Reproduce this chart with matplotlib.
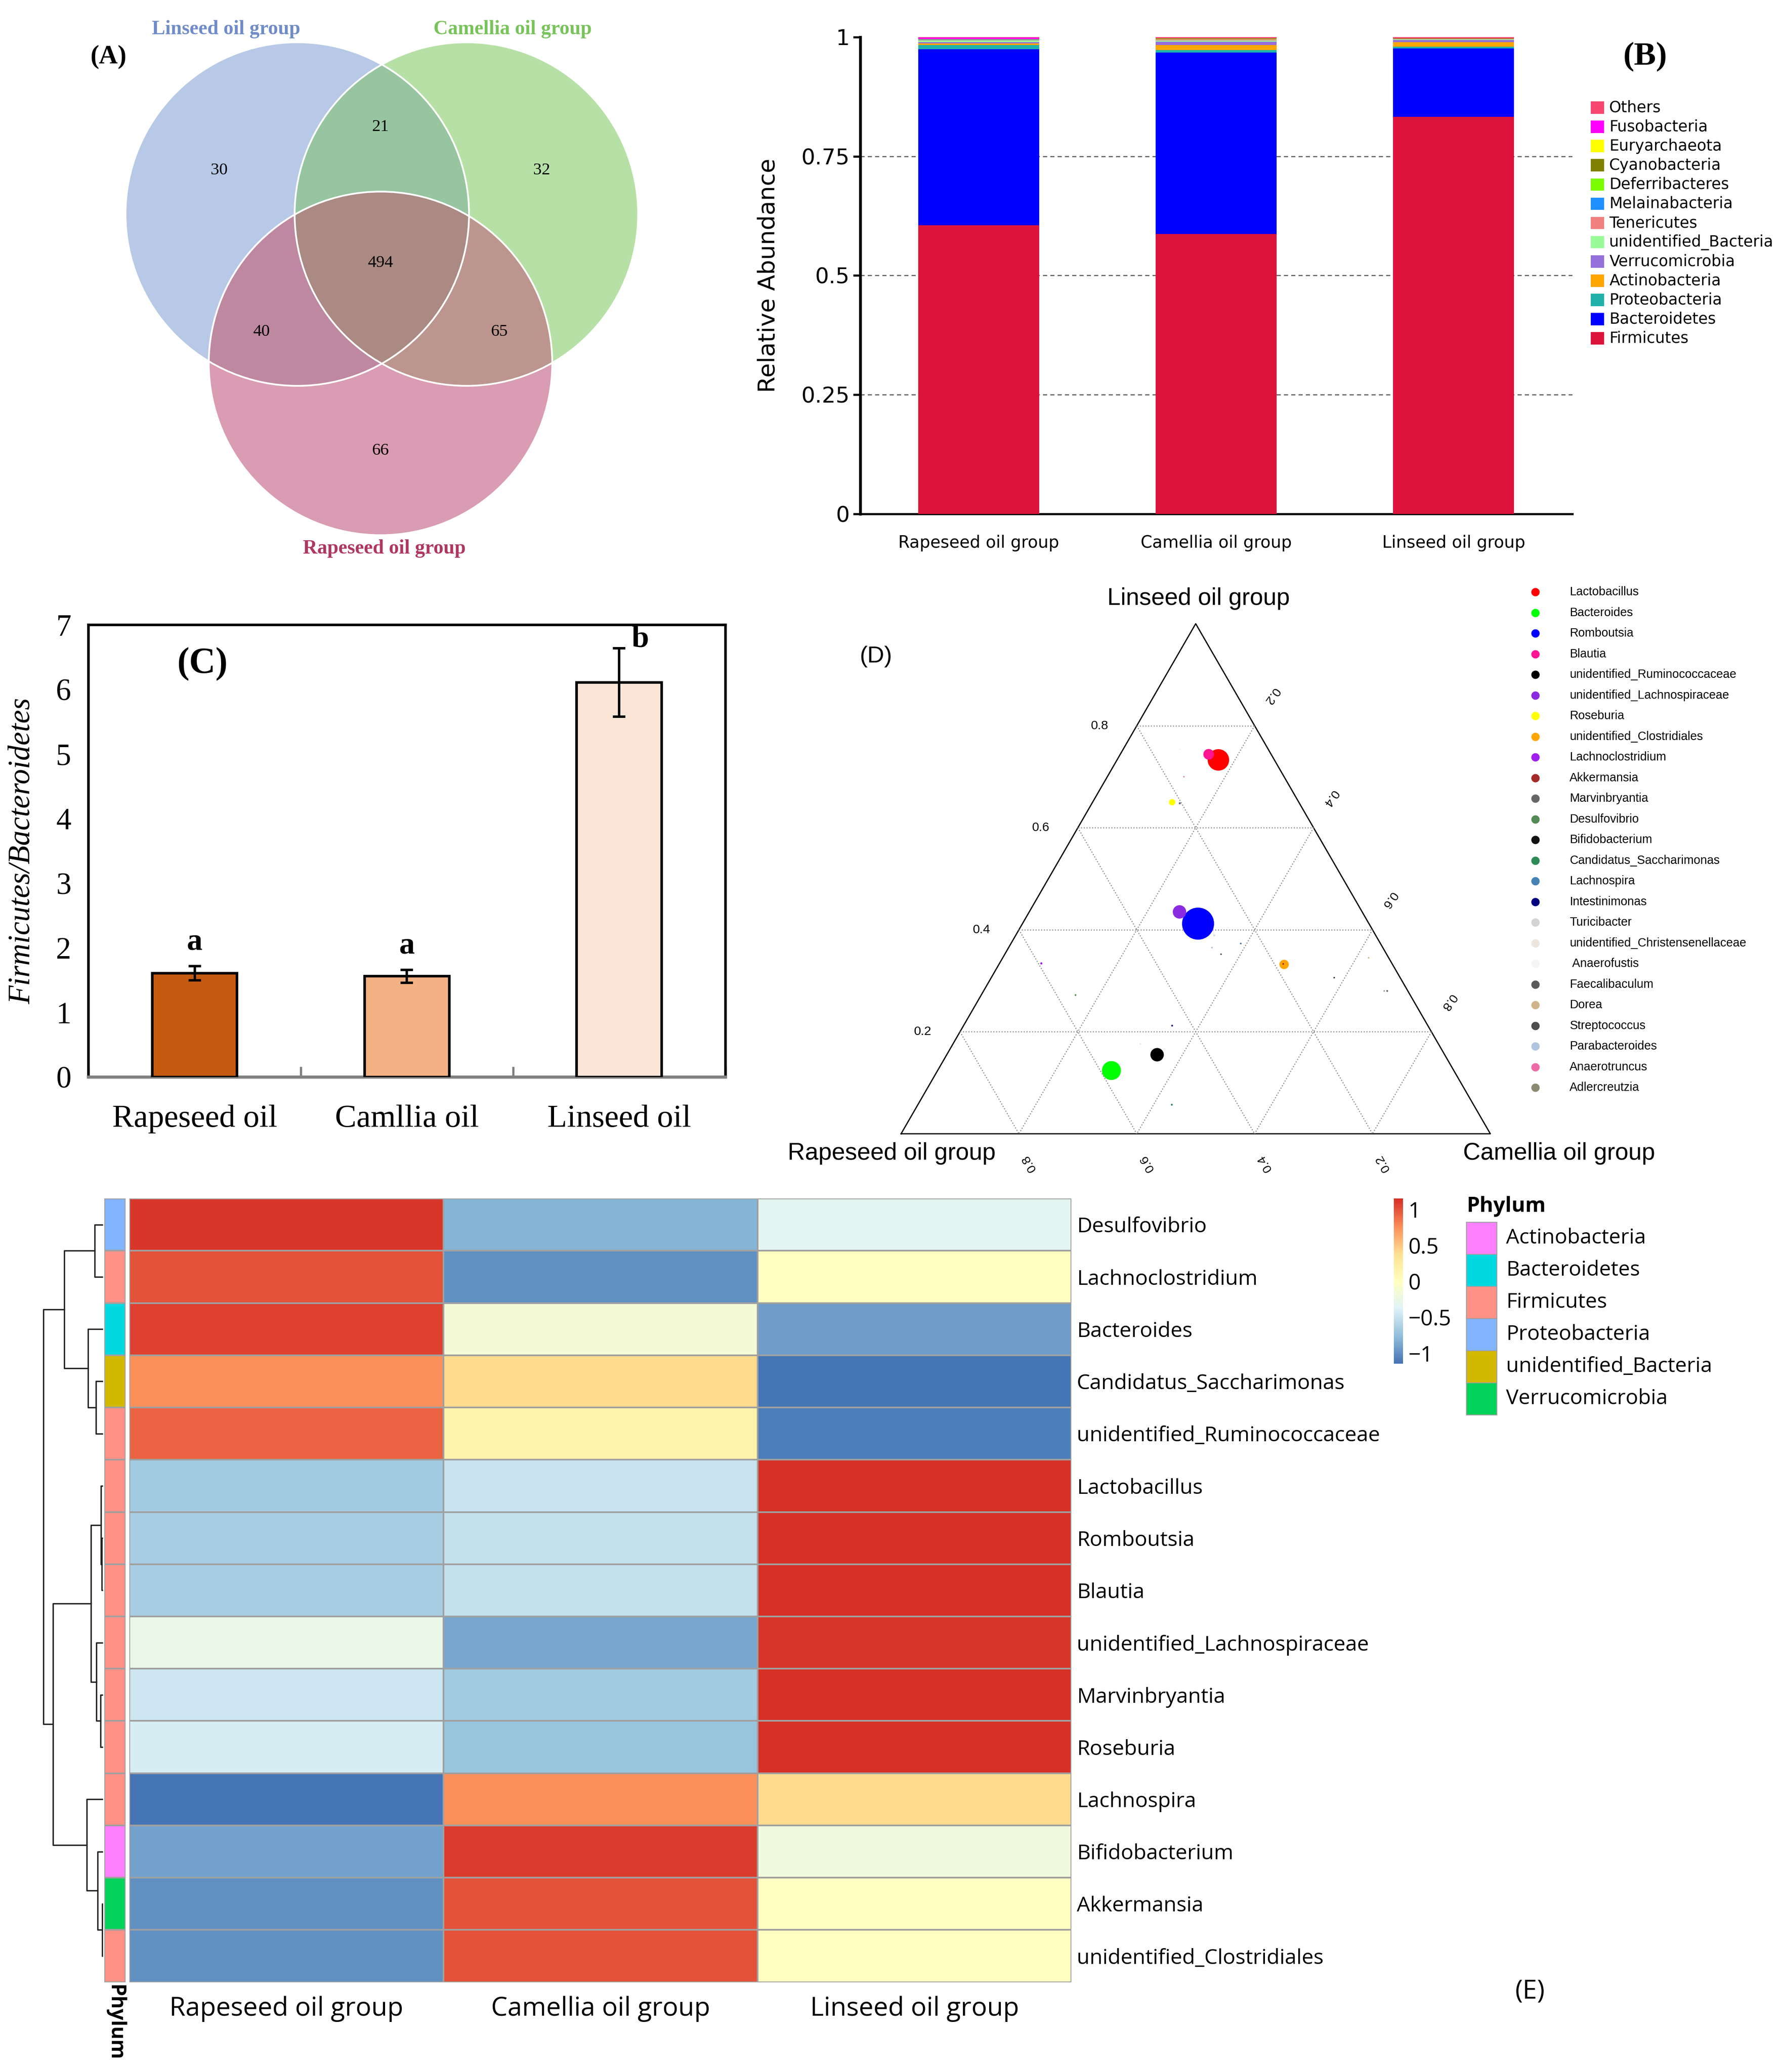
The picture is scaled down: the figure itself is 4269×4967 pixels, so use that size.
import numpy as np
import matplotlib
matplotlib.use("Agg")
import matplotlib.pyplot as plt
from matplotlib.patches import Circle, Rectangle
from matplotlib.colors import LinearSegmentedColormap, ListedColormap, to_rgba

# ---------------- data ----------------
# (A) venn
venn_names = ["Linseed oil group", "Camellia oil group", "Rapeseed oil group"]
venn_counts = {"L": 30, "C": 32, "R": 66, "LC": 21, "LR": 40, "CR": 65, "LCR": 494}

# (B) phylum relative abundance, bottom -> top of stack
groups_b = ["Rapeseed oil group", "Camellia oil group", "Linseed oil group"]
phyla_b = ["Firmicutes", "Bacteroidetes", "Proteobacteria", "Actinobacteria", "Verrucomicrobia",
           "unidentified_Bacteria", "Tenericutes", "Melainabacteria", "Deferribacteres",
           "Cyanobacteria", "Euryarchaeota", "Fusobacteria", "Others"]
rapeseed_b = [0.605, 0.369, 0.009, 0.004, 0.002, 0.004, 0.001, 0.0005, 0.0005, 0.0003, 0.0002, 0.003, 0.0015]
camellia_b = [0.587, 0.380, 0.006, 0.010, 0.007, 0.003, 0.002, 0.0005, 0.001, 0.0003, 0.0002, 0.0003, 0.0027]
linseed_b = [0.833, 0.143, 0.004, 0.009, 0.005, 0.001, 0.001, 0.0003, 0.0003, 0.0002, 0.0002, 0.0002, 0.003]
phyla_b_colors = ["#dc143c", "#0000ff", "#20b2aa", "#ffa500", "#9370db", "#98fb98", "#f08080",
                  "#1e90ff", "#7cfc00", "#808000", "#ffff00", "#ff00ff", "#f64670"]

# (C) F/B ratio
groups_c = ["Rapeseed oil", "Camllia oil", "Linseed oil"]
fb_ratio = [1.61, 1.56, 6.11]
fb_err = [0.11, 0.10, 0.53]
fb_letters = ["a", "a", "b"]
fb_colors = ["#c55a11", "#f4b183", "#fbe5d6"]

# (D) ternary: fractions in linseed / rapeseed / camellia, mean abundance
genera_d = ["Lactobacillus", "Bacteroides", "Romboutsia", "Blautia", "unidentified_Ruminococcaceae",
            "unidentified_Lachnospiraceae", "Roseburia", "unidentified_Clostridiales", "Lachnoclostridium",
            "Akkermansia", "Marvinbryantia", "Desulfovibrio", "Bifidobacterium", "Candidatus_Saccharimonas",
            "Lachnospira", "Intestinimonas", "Turicibacter", "unidentified_Christensenellaceae",
            " Anaerofustis", "Faecalibaculum", "Dorea", "Streptococcus", "Parabacteroides",
            "Anaerotruncus", "Adlercreutzia"]
lin_d = [0.733, 0.124, 0.412, 0.744, 0.155, 0.435, 0.650, 0.332, 0.334, 0.333, 0.648, 0.272, 0.306,
         0.057, 0.373, 0.212, 0.389, 0.176, 0.754, 0.280, 0.345, 0.352, 0.365, 0.700, 0.280]
rap_d = [0.095, 0.581, 0.290, 0.106, 0.488, 0.310, 0.215, 0.184, 0.595, 0.185, 0.203, 0.568, 0.112,
         0.512, 0.237, 0.434, 0.274, 0.506, 0.150, 0.035, 0.034, 0.281, 0.290, 0.170, 0.040]
cam_d = [0.172, 0.295, 0.298, 0.150, 0.357, 0.255, 0.135, 0.484, 0.071, 0.482, 0.149, 0.160, 0.582,
         0.431, 0.390, 0.354, 0.337, 0.318, 0.096, 0.685, 0.621, 0.367, 0.345, 0.130, 0.680]
abund_d = [0.09, 0.07, 0.20, 0.022, 0.035, 0.035, 0.008, 0.017, 0.0009, 0.0006, 0.0008, 0.0006, 0.0004,
           0.0007, 0.0006, 0.0006, 0.0006, 0.0005, 0.0005, 0.0006, 0.0005, 0.0005, 0.0006, 0.0004, 0.0004]
colors_d = ["#ff0000", "#00ff00", "#0000ff", "#ff1493", "#000000", "#8a2be2", "#ffff00", "#ffa500",
            "#a020f0", "#a52a2a", "#666666", "#548b54", "#111111", "#2e8b57", "#4682b4", "#000080",
            "#d3d3d3", "#eee5de", "#f5f5f5", "#595959", "#d2b48c", "#4d4d4d", "#b0c4de", "#ee6aa7",
            "#8b8970"]

# (E) heatmap, row z-scores
genera_e = ["Desulfovibrio", "Lachnoclostridium", "Bacteroides", "Candidatus_Saccharimonas",
            "unidentified_Ruminococcaceae", "Lactobacillus", "Romboutsia", "Blautia",
            "unidentified_Lachnospiraceae", "Marvinbryantia", "Roseburia", "Lachnospira",
            "Bifidobacterium", "Akkermansia", "unidentified_Clostridiales"]
groups_e = ["Rapeseed oil group", "Camellia oil group", "Linseed oil group"]
z_rapeseed = [1.12, 1.00, 1.07, 0.74, 0.93, -0.67, -0.64, -0.64, -0.25, -0.46, -0.42, -1.14, -0.90, -1.00, -1.00]
z_camellia = [-0.80, -1.00, -0.15, 0.41, 0.15, -0.48, -0.51, -0.51, -0.87, -0.68, -0.72, 0.74, 1.10, 1.00, 1.00]
z_linseed = [-0.32, 0.00, -0.92, -1.15, -1.08, 1.15, 1.15, 1.15, 1.12, 1.14, 1.14, 0.40, -0.20, 0.00, 0.00]
phylum_e = ["Proteobacteria", "Firmicutes", "Bacteroidetes", "unidentified_Bacteria", "Firmicutes",
            "Firmicutes", "Firmicutes", "Firmicutes", "Firmicutes", "Firmicutes", "Firmicutes",
            "Firmicutes", "Actinobacteria", "Verrucomicrobia", "Firmicutes"]
phylum_levels = ["Actinobacteria", "Bacteroidetes", "Firmicutes", "Proteobacteria",
                 "unidentified_Bacteria", "Verrucomicrobia"]
phylum_colors = ["#ff80ff", "#00d9e2", "#ff9187", "#82b4ff", "#d2b900", "#00d25a"]
# row tree: (child_a, child_b, height); leaves 0..14, new nodes 15..
row_merges = [(6, 7, 9), (5, 15, 14), (9, 10, 18), (8, 17, 48), (16, 18, 88), (13, 14, 5),
              (12, 20, 40), (11, 21, 118), (19, 22, 360), (0, 1, 60), (3, 4, 52), (2, 25, 108),
              (24, 26, 277), (27, 23, 427)]

# ---------------- layout ----------------
W, H = 1348, 1568


def rect(x0, y0, x1, y1):
    return [x0 / W, 1 - y1 / H, (x1 - x0) / W, (y1 - y0) / H]


SERIF = "Liberation Serif"
fig = plt.figure(figsize=(4269 / 300, 4967 / 300), dpi=300)
bg = fig.add_axes([0, 0, 1, 1], zorder=10)
bg.patch.set_alpha(0)
bg.axis("off")

# ---------------- (A) venn ----------------
centers = {"L": (225, 162), "C": (353, 162), "R": (288, 275)}
rad = 130
xs = np.arange(85, 495, 0.3)
ys = np.arange(25, 415, 0.3)
X, Y = np.meshgrid(xs, ys)
code = np.zeros(X.shape, dtype=int)
for bit, k in zip([1, 2, 4], ["L", "C", "R"]):
    cx, cy = centers[k]
    code += bit * ((X - cx) ** 2 + (Y - cy) ** 2 <= rad ** 2)
region_cols = {1: "#b7c9e6", 2: "#b7e0a6", 4: "#d99cb2", 3: "#96c5a0", 5: "#be89a0",
               6: "#bc968e", 7: "#aa8a82"}
img = np.zeros(X.shape + (4,))
for k, c in region_cols.items():
    img[code == k] = to_rgba(c)
bg.imshow(img, extent=(xs[0], xs[-1], ys[-1], ys[0]), origin="upper",
          interpolation="nearest", aspect="auto", zorder=1)
for k in ["L", "C", "R"]:
    bg.add_patch(Circle(centers[k], rad, fill=False, ec="white", lw=1.0, zorder=2))
region_pos = {"L": (166, 129), "C": (410, 129), "R": (288, 341), "LC": (288, 96),
              "LR": (198, 251), "CR": (378, 251), "LCR": (288, 199)}
for k, v in venn_counts.items():
    bg.text(*region_pos[k], str(v), ha="center", va="center", fontsize=9.8, family=SERIF, zorder=3)
bg.text(171, 22, venn_names[0], color="#708cc8", fontsize=11.5, fontweight="bold", family=SERIF,
        ha="center", va="center")
bg.text(388, 22, venn_names[1], color="#78c35a", fontsize=11.5, fontweight="bold", family=SERIF,
        ha="center", va="center")
bg.text(291, 415, venn_names[2], color="#af375f", fontsize=11.5, fontweight="bold", family=SERIF,
        ha="center", va="center")
bg.text(82, 43, "(A)", fontsize=15, fontweight="bold", family=SERIF, ha="center", va="center")

# ---------------- (B) stacked bars ----------------
axb = fig.add_axes(rect(651, 28, 1190, 389))
axb.patch.set_alpha(0)
xb = np.arange(len(groups_b))
stack = np.array([rapeseed_b, camellia_b, linseed_b])
bottom = np.zeros(3)
for i, ph in enumerate(phyla_b):
    axb.bar(xb, stack[:, i], 0.51, bottom=bottom, color=phyla_b_colors[i], zorder=3)
    bottom += stack[:, i]
axb.set_xlim(-0.5, 2.5)
axb.set_ylim(0, 1)
axb.set_yticks([0, 0.25, 0.5, 0.75, 1])
axb.set_yticklabels(["0", "0.25", "0.5", "0.75", "1"], fontsize=12.5)
axb.set_xticks(xb)
axb.set_xticklabels(groups_b, fontsize=9.6)
for v in [0.25, 0.5, 0.75]:
    axb.axhline(v, color="#555555", ls=(0, (4, 3)), lw=0.6, zorder=1)
for s in ["top", "right"]:
    axb.spines[s].set_visible(False)
axb.spines["left"].set_linewidth(1.6)
axb.spines["bottom"].set_linewidth(1.2)
axb.tick_params(axis="y", length=4, width=1.2, pad=2)
axb.tick_params(axis="x", length=0, pad=12)
axb.set_ylabel("Relative Abundance", fontsize=13.5)
axb.yaxis.set_label_coords(-0.113, 0.5)
bg.text(1245, 43, "(B)", fontsize=19, fontweight="bold", family=SERIF, ha="center", va="center")
for i, ph in enumerate(phyla_b[::-1]):
    yy = 81.5 + i * 14.54
    bg.add_patch(Rectangle((1204, yy - 4.7), 10, 9.4, color=phyla_b_colors[::-1][i], lw=0))
    bg.text(1218, yy, ph, fontsize=8.9, va="center", ha="left")

# ---------------- (C) F/B ratio ----------------
axc = fig.add_axes(rect(67, 473, 549, 815))
xc = np.arange(3)
axc.bar(xc, fb_ratio, 0.4, color=fb_colors, edgecolor="black", lw=1.5, zorder=3)
axc.errorbar(xc, fb_ratio, yerr=fb_err, fmt="none", ecolor="black", elinewidth=1.4,
             capsize=3.5, capthick=1.4, zorder=4)
for i, let in enumerate(fb_letters):
    if let == "b":
        axc.text(xc[i] + 0.1, fb_ratio[i] + fb_err[i] + 0.14, let, fontsize=18, fontweight="bold",
                 family=SERIF, ha="center", va="center")
    else:
        axc.text(xc[i], fb_ratio[i] + fb_err[i] + 0.37, let, fontsize=18, fontweight="bold",
                 family=SERIF, ha="center", va="center")
axc.set_xlim(-0.5, 2.5)
axc.set_ylim(0, 7)
axc.set_yticks(range(8))
axc.set_yticklabels([str(i) for i in range(8)], fontsize=17.5, family=SERIF)
axc.set_xticks(xc)
axc.set_xticklabels(groups_c, fontsize=18.5, family=SERIF)
axc.set_xticks([-0.5, 0.5, 1.5, 2.5], minor=True)
axc.tick_params(axis="x", which="major", length=0, pad=16)
axc.tick_params(axis="x", which="minor", direction="in", length=6, width=1.3, color="#808080")
axc.tick_params(axis="y", length=0, pad=10)
for s in ["top", "right", "left"]:
    axc.spines[s].set_linewidth(1.5)
axc.spines["bottom"].set_color("#808080")
axc.spines["bottom"].set_linewidth(1.8)
axc.set_ylabel("Firmicutes/Bacteroidetes", fontsize=17.5, family=SERIF, style="italic")
axc.yaxis.set_label_coords(-0.082, 0.5)
axc.text(0.035, 6.4, "(C)", fontsize=21, fontweight="bold", family=SERIF, ha="center", va="center")

# ---------------- (D) ternary ----------------
axd = fig.add_axes(rect(682, 472, 1128, 858))
axd.set_xlim(0, 1)
axd.set_ylim(0, np.sqrt(3) / 2)
axd.axis("off")
h3 = np.sqrt(3) / 2


def tern(l, r, c):
    return c + l / 2, l * h3


axd.plot([0, 1, 0.5, 0], [0, 0, h3, 0], color="black", lw=0.7, clip_on=False)
SANS = "Liberation Sans"
for v in [0.2, 0.4, 0.6, 0.8]:
    p1, p2 = tern(v, 1 - v, 0), tern(v, 0, 1 - v)
    axd.plot([p1[0], p2[0]], [p1[1], p2[1]], color="#888888", ls=":", lw=0.6)
    p1, p2 = tern(1 - v, v, 0), tern(0, v, 1 - v)
    axd.plot([p1[0], p2[0]], [p1[1], p2[1]], color="#888888", ls=":", lw=0.6)
    p1, p2 = tern(1 - v, 0, v), tern(0, 1 - v, v)
    axd.plot([p1[0], p2[0]], [p1[1], p2[1]], color="#888888", ls=":", lw=0.6)
    off = 0.058
    px, py = tern(v, 1 - v, 0)
    axd.text(px - off - 0.005, py, f"{v:.1f}", fontsize=7.3, family=SANS, ha="center", va="center")
    px, py = tern(1 - v, 0, v)
    axd.text(px + off * 0.5, py + off * h3, f"{v:.1f}", fontsize=7.3, family=SANS, rotation=-125,
             ha="center", va="center")
    px, py = tern(0, v, 1 - v)
    axd.text(px + off * 0.3, py - off * h3, f"{v:.1f}", fontsize=7.3, family=SANS, rotation=120,
             ha="center", va="center")
pts = np.array([tern(l, r, c) for l, r, c in zip(lin_d, rap_d, cam_d)])
axd.scatter(pts[:, 0], pts[:, 1], s=np.array(abund_d) * 1700, c=colors_d, linewidths=0,
            zorder=5, clip_on=False)
bg.text(907, 453, "Linseed oil group", fontsize=13.8, family=SANS, ha="center", va="center")
bg.text(675, 873, "Rapeseed oil group", fontsize=13.8, family=SANS, ha="center", va="center")
bg.text(1180, 873, "Camellia oil group", fontsize=13.8, family=SANS, ha="center", va="center")
bg.text(663, 497, "(D)", fontsize=13.5, family=SANS, ha="center", va="center")
for i, g in enumerate(genera_d):
    yy = 448 + i * 15.625
    bg.plot(1162, yy, "o", ms=4.8, color=colors_d[i], mec="none")
    bg.text(1188, yy, g, fontsize=6.9, family=SANS, va="center", ha="left")

# ---------------- (E) heatmap ----------------
EF = "Open Sans"
zmat = np.array([z_rapeseed, z_camellia, z_linseed]).T
cmap_e = LinearSegmentedColormap.from_list(
    "rdylbu", ["#4575B4", "#91BFDB", "#E0F3F8", "#FFFFBF", "#FEE090", "#FC8D59", "#D73027"], N=100)
axe = fig.add_axes(rect(98, 907, 811, 1500))
mesh = axe.pcolormesh(zmat, cmap=cmap_e, vmin=-1.14, vmax=1.15, edgecolors="#a0a0a0", linewidth=0.5)
axe.set_xlim(0, 3)
axe.set_ylim(len(genera_e), 0)
axe.set_xticks(np.arange(3) + 0.5)
axe.set_xticklabels(groups_e, fontsize=15, family=EF)
axe.set_yticks(np.arange(len(genera_e)) + 0.5)
axe.set_yticklabels(genera_e, fontsize=12.1, family=EF)
axe.yaxis.tick_right()
axe.tick_params(length=0, pad=3)
axe.tick_params(axis="x", pad=8)
for s in axe.spines.values():
    s.set_visible(False)

axa = fig.add_axes(rect(79, 907, 95, 1500))
ph_idx = np.array([[phylum_levels.index(p)] for p in phylum_e])
axa.pcolormesh(ph_idx, cmap=ListedColormap(phylum_colors), vmin=-0.5, vmax=len(phylum_levels) - 0.5,
               edgecolors="#a0a0a0", linewidth=0.5)
axa.set_ylim(len(genera_e), 0)
axa.set_xticks([])
axa.set_yticks([])
for s in axa.spines.values():
    s.set_visible(False)
bg.text(87, 1502, "Phylum", rotation=-90, fontsize=11.5, fontweight="bold", family=EF,
        ha="center", va="top")

axt = fig.add_axes(rect(28, 907, 78, 1500))
node_y = {i: i + 0.5 for i in range(len(genera_e))}
node_h = {i: 0.0 for i in range(len(genera_e))}
for k, (a, b, hh) in enumerate(row_merges):
    nid = len(genera_e) + k
    axt.plot([node_h[a], hh, hh, node_h[b]], [node_y[a], node_y[a], node_y[b], node_y[b]],
             color="#222222", lw=0.8)
    node_y[nid] = (node_y[a] + node_y[b]) / 2
    node_h[nid] = hh
axt.set_xlim(474, 0)
axt.set_ylim(len(genera_e), 0)
axt.axis("off")

cax = fig.add_axes(rect(1055, 907, 1062, 1032))
cb = fig.colorbar(mesh, cax=cax, ticks=[-1, -0.5, 0, 0.5, 1])
cb.outline.set_visible(False)
cb.ax.set_yticklabels(["\u22121", "\u22120.5", "0", "0.5", "1"], fontsize=12.5, family=EF)
cb.ax.tick_params(length=0, pad=3)

bg.text(1110, 913, "Phylum", fontsize=12, fontweight="bold", family=EF, ha="left", va="center")
for i, p in enumerate(phylum_levels):
    y0 = 925 + i * 24.3
    bg.add_patch(Rectangle((1110, y0), 23, 24.3, facecolor=phylum_colors[i], edgecolor="#a0a0a0", lw=0.5))
    bg.text(1140, y0 + 12.15, p, fontsize=12, family=EF, ha="left", va="center")
bg.text(1158, 1507, "(E)", fontsize=15, family=EF, ha="center", va="center")

bg.set_xlim(0, W)
bg.set_ylim(H, 0)
fig.savefig("out.png", dpi=300)
